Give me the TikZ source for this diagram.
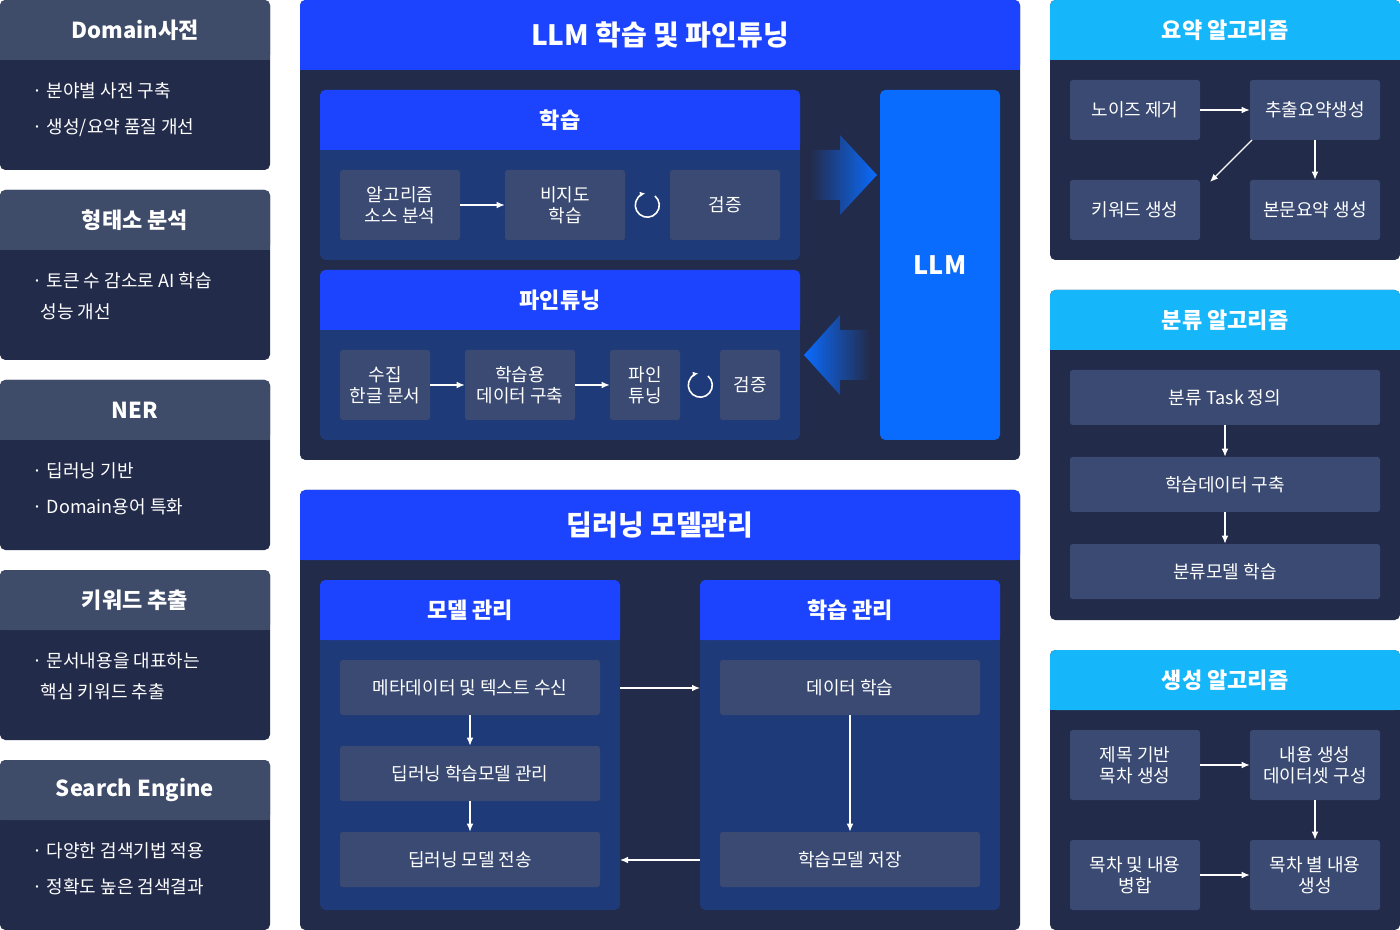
\documentclass[tikz,border=0pt]{standalone}
\usepackage{fontspec}
\setmainfont{Noto Sans CJK KR}
\definecolor{lhead}{HTML}{3E4B69}
\definecolor{lbody}{HTML}{232B4A}
\definecolor{cbody}{HTML}{232B4A}
\definecolor{bhead}{HTML}{1C44FF}
\definecolor{sub}{HTML}{1E3A78}
\definecolor{boxc}{HTML}{3A4A72}
\definecolor{llm}{HTML}{0A6CFF}
\definecolor{rhead}{HTML}{16B6FA}
\newcommand\bx[6]{\pgfmathsetmacro\ww{(#4-#2)*0.75}\pgfmathsetmacro\hh{(#5-#3)*0.75}\node[box,minimum width=\ww pt,minimum height=\hh pt] (#1) at ({(#2+#4)/2},{(#3+#5)/2}) {#6};}
\newcommand\pnl[9]{% name x1 y1 x2 y2 hh headcol bodycol text
\fill[#8,rounded corners=4pt] (#2,#3) rectangle (#4,#5);
\fill[#7,rounded corners=4pt] (#2,#3) rectangle (#4,#3+#6);
\fill[#7] (#2,#3+#6-8) rectangle (#4,#3+#6);
\node[htxt] (#1) at ({(#2+#4)/2},{#3+#6/2}) {#9};}
\tikzset{
box/.style={fill=boxc,rounded corners=2pt,text=white,align=center,inner sep=0pt,font=\fontsize{13.5}{16}\selectfont},
htxt/.style={text=white,font=\bfseries\fontsize{16.5}{20}\selectfont},
btxt/.style={text=white,align=left,anchor=north west,font=\fontsize{13.5}{23}\selectfont},
ar/.style={white,line width=1pt,-{Latex[length=6pt,width=5pt]}},
}
\usetikzlibrary{arrows.meta}
\begin{document}
\begin{tikzpicture}[x=0.75pt,y=-0.75pt]
\useasboundingbox (0,0) rectangle (1400,930);
\fill[white] (0,0) rectangle (1400,930);
% left
\pnl{h1}{0}{0}{270}{170}{60}{lhead}{lbody}{Domain사전}
\node[btxt] (t1) at (28,78) {· 분야별 사전 구축\\[4pt]· 생성/요약 품질 개선};
\pnl{h2}{0}{190}{270}{360}{60}{lhead}{lbody}{형태소 분석}
\node[btxt] (t2) at (28,268) {· 토큰 수 감소로 AI 학습\\\ \ 성능 개선};
\pnl{h3}{0}{380}{270}{550}{60}{lhead}{lbody}{NER}
\node[btxt] (t3) at (28,458) {· 딥러닝 기반\\[4pt]· Domain용어 특화};
\pnl{h4}{0}{570}{270}{740}{60}{lhead}{lbody}{키워드 추출}
\node[btxt] (t4) at (28,648) {· 문서내용을 대표하는\\\ \ 핵심 키워드 추출};
\pnl{h5}{0}{760}{270}{930}{60}{lhead}{lbody}{Search Engine}
\node[btxt] (t5) at (28,838) {· 다양한 검색기법 적용\\[4pt]· 정확도 높은 검색결과};
% center top
\pnl{c1}{300}{0}{1020}{460}{70}{bhead}{cbody}{\fontsize{21}{25}\selectfont LLM 학습 및 파인튜닝}
\pnl{s1}{320}{90}{800}{260}{60}{bhead}{sub}{학습}
\bx{a1}{340}{170}{460}{240}{알고리즘\\소스 분석}
\bx{a2}{505}{170}{625}{240}{비지도\\학습}
\bx{a3}{670}{170}{780}{240}{검증}
\draw[ar] (a1) -- (a2);
\coordinate (r1) at (647,205);
\draw[white,line width=1.2pt,-{Latex[length=4pt,width=4pt]}] (r1)++(8,-9) arc[start angle=-50,end angle=260,radius=12];
\pnl{s2}{320}{270}{800}{440}{60}{bhead}{sub}{파인튜닝}
\bx{b1}{340}{350}{430}{420}{수집\\한글 문서}
\bx{b2}{465}{350}{575}{420}{학습용\\데이터 구축}
\bx{b3}{610}{350}{680}{420}{파인\\튜닝}
\bx{b4}{720}{350}{780}{420}{검증}
\draw[ar] (b1) -- (b2);
\draw[ar] (b2) -- (b3);
\coordinate (r2) at (700,385);
\draw[white,line width=1.2pt,-{Latex[length=4pt,width=4pt]}] (r2)++(8,-9) arc[start angle=-50,end angle=260,radius=12];
\node[fill=llm,rounded corners=4pt,minimum width=90pt,minimum height=262.5pt,text=white,font=\bfseries\fontsize{19}{22}\selectfont,inner sep=0] (llm) at (940,265) {LLM};
\shade[left color=cbody,right color=llm] (810,150)--(840,150)--(840,135)--(877,175)--(840,215)--(840,200)--(810,200)--cycle;
\shade[right color=cbody,left color=llm] (870,330)--(840,330)--(840,315)--(804,355)--(840,395)--(840,380)--(870,380)--cycle;
% center bottom
\pnl{c2}{300}{490}{1020}{930}{70}{bhead}{cbody}{\fontsize{21}{25}\selectfont 딥러닝 모델관리}
\pnl{m1}{320}{580}{620}{910}{60}{bhead}{sub}{모델 관리}
\pnl{m2}{700}{580}{1000}{910}{60}{bhead}{sub}{학습 관리}
\bx{d1}{340}{660}{600}{715}{메타데이터 및 텍스트 수신}
\bx{d2}{340}{746}{600}{801}{딥러닝 학습모델 관리}
\bx{d3}{340}{832}{600}{887}{딥러닝 모델 전송}
\bx{e1}{720}{660}{980}{715}{데이터 학습}
\bx{e2}{720}{832}{980}{887}{학습모델 저장}
\draw[ar] (d1) -- (d2);
\draw[ar] (d2) -- (d3);
\draw[ar] (e1) -- (e2);
\coordinate (p1) at (620,688); \coordinate (p2) at (700,688);
\draw[ar] (p1) -- (p2);
\coordinate (p3) at (700,860); \coordinate (p4) at (620,860);
\draw[ar] (p3) -- (p4);
% right
\pnl{r1h}{1050}{0}{1400}{260}{60}{rhead}{lbody}{요약 알고리즘}
\bx{f1}{1070}{80}{1200}{140}{노이즈 제거}
\bx{f2}{1250}{80}{1380}{140}{추출요약생성}
\bx{f3}{1070}{180}{1200}{240}{키워드 생성}
\bx{f4}{1250}{180}{1380}{240}{본문요약 생성}
\draw[ar] (f1) -- (f2);
\draw[ar] (f2) -- (f4);
\coordinate (q1) at (1252,140); \coordinate (q2) at (1210,182);
\draw[ar] (q1) -- (q2);
\pnl{r2h}{1050}{290}{1400}{620}{60}{rhead}{lbody}{분류 알고리즘}
\bx{g1}{1070}{370}{1380}{425}{분류 Task 정의}
\bx{g2}{1070}{457}{1380}{512}{학습데이터 구축}
\bx{g3}{1070}{544}{1380}{599}{분류모델 학습}
\draw[ar] (g1) -- (g2);
\draw[ar] (g2) -- (g3);
\pnl{r3h}{1050}{650}{1400}{930}{60}{rhead}{lbody}{생성 알고리즘}
\bx{k1}{1070}{730}{1200}{800}{제목 기반\\목차 생성}
\bx{k2}{1250}{730}{1380}{800}{내용 생성\\데이터셋 구성}
\bx{k3}{1070}{840}{1200}{910}{목차 및 내용\\병합}
\bx{k4}{1250}{840}{1380}{910}{목차 별 내용\\생성}
\draw[ar] (k1) -- (k2);
\draw[ar] (k2) -- (k4);
\draw[ar] (k3) -- (k4);
\end{tikzpicture}
\end{document}
